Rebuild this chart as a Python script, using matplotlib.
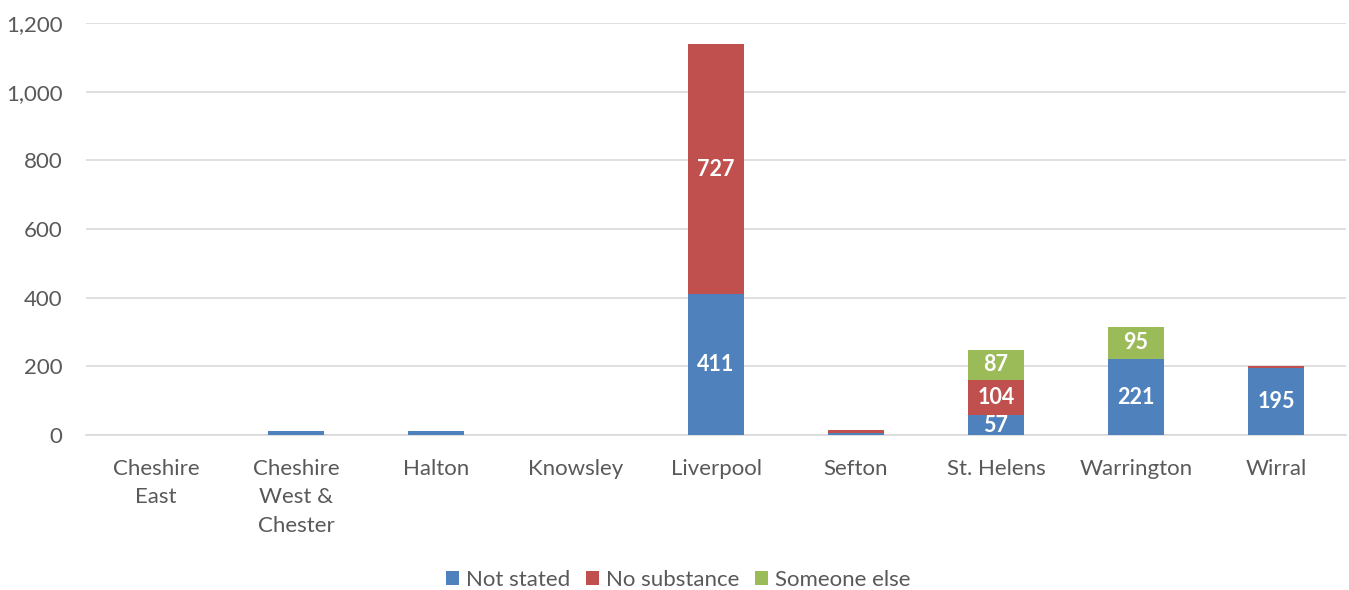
import matplotlib.pyplot as plt
import numpy as np

areas = ["Cheshire\nEast", "Cheshire\nWest &\nChester", "Halton", "Knowsley",
         "Liverpool", "Sefton", "St. Helens", "Warrington", "Wirral"]
not_stated = [0, 11, 12, 0, 411, 6, 57, 221, 195]
no_substance = [0, 0, 0, 0, 727, 9, 104, 0, 7]
someone_else = [0, 0, 0, 0, 0, 0, 87, 95, 0]

series = [("Not stated", not_stated, "#4F81BD"),
          ("No substance", no_substance, "#C0504D"),
          ("Someone else", someone_else, "#9BBB59")]

plt.rcParams['font.family'] = ['Lato', 'DejaVu Sans']
fig = plt.figure(figsize=(13.49, 5.9), dpi=100)
ax = fig.add_axes([0.0638, 0.2627, 0.934, 0.698])

x = np.arange(len(areas))
bottom = np.zeros(len(areas))
for name, vals, col in series:
    vals = np.array(vals, dtype=float)
    widths = [0.4 if v > 0 else 0 for v in vals]
    ax.bar(x, vals, widths, bottom=bottom, color=col, label=name,
           linewidth=0, zorder=3)
    for xi, b, v in zip(x, bottom, vals):
        if v >= 50:
            ax.text(xi, b + v / 2, f"{int(v)}", ha="center", va="center",
                    color="white", fontsize=15.5, fontweight="bold", zorder=4)
    bottom += vals

ax.set_xlim(-0.5, len(areas) - 0.5)
ax.set_ylim(0, 1200)
ax.set_yticks(np.arange(0, 1201, 200))
ax.yaxis.set_major_formatter(plt.FuncFormatter(lambda v, p: f"{int(v):,}"))
ax.set_xticks(x)
ax.set_xticklabels(areas, va="top", linespacing=1.55)
ax.grid(axis="y", color="#D9D9D9", linewidth=1.2, zorder=0)
for s in ["top", "right", "left"]:
    ax.spines[s].set_visible(False)
ax.spines["bottom"].set_color("#D9D9D9")
ax.spines["bottom"].set_linewidth(1.2)
ax.tick_params(axis="both", length=0, labelsize=16, colors="#595959")
ax.tick_params(axis="x", pad=17)
ax.tick_params(axis="y", pad=17)

ax.legend(loc="lower center", bbox_to_anchor=(0.47, -0.425), ncol=3, frameon=False,
          fontsize=16, labelcolor="#595959", handlelength=0.6, handleheight=0.6,
          handletextpad=0.3, columnspacing=0.7)

plt.savefig("out.png", dpi=100)
